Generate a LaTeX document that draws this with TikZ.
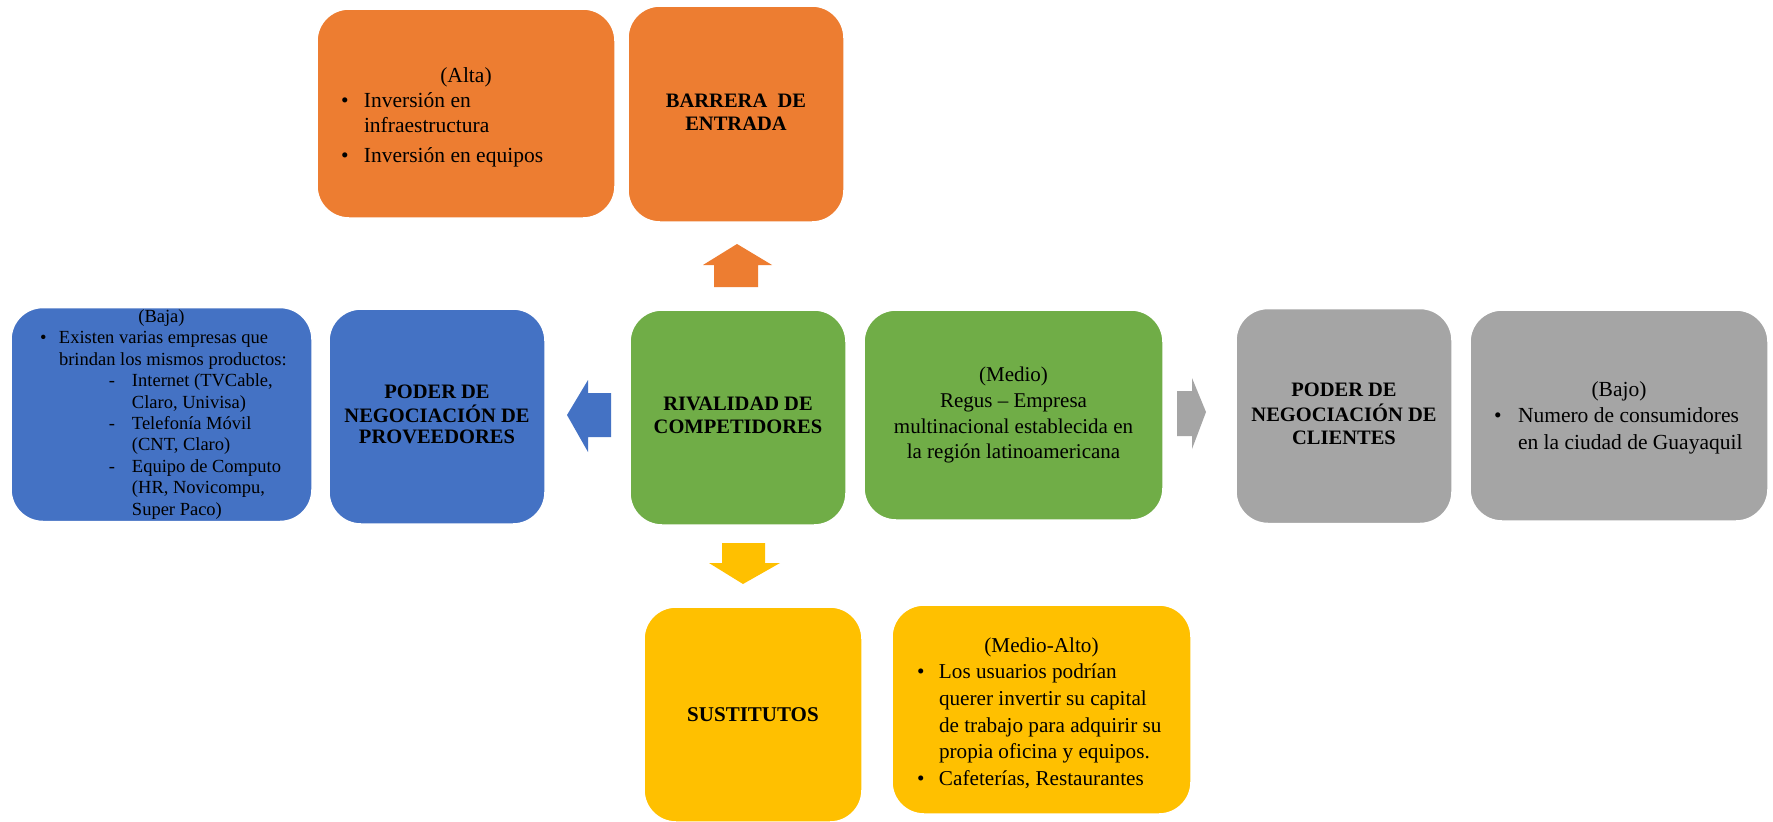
\documentclass[tikz,border=0pt]{standalone}
\usepackage{fontspec}
\setmainfont{Liberation Serif}
\definecolor{corange}{HTML}{ED7D31}
\definecolor{cblue}{HTML}{4472C4}
\definecolor{cgreen}{HTML}{70AD47}
\definecolor{cgray}{HTML}{A5A5A5}
\definecolor{cyellow}{HTML}{FFC000}
\newlength\bw
\newcommand\Lc[1]{\makebox[\bw][c]{#1}}
\newcommand\Ll[2]{\makebox[\bw][l]{\hspace*{#1}#2}}
\newcommand\Lb[3]{\makebox[\bw][l]{\hspace*{#1}\makebox[#2][l]{\textbullet}#3}}
\newcommand\Ld[3]{\makebox[\bw][l]{\hspace*{#1}\makebox[#2][l]{-}#3}}
% shift content down by #1 without moving the box centre
\newcommand\down[2]{\raisebox{0pt}[\dimexpr\height+#1*2\relax][\depth]{#2}}
\tikzset{
  box/.style={draw=white, line width=1.5pt, rounded corners=32pt, inner sep=0pt, text=black},
}
\begin{document}
\begin{tikzpicture}[x=1pt,y=-1pt]
\useasboundingbox (0,0) rectangle (1773,822);
\fill[white] (0,0) rectangle (1773,822);

% top row (orange)
\node[box, fill=corange, minimum width=298pt, minimum height=209pt] (alta) at (466,113.5) {%
  \setlength\bw{250pt}\fontsize{21.5}{25}\selectfont
  \down{4pt}{\begin{tabular}{@{}l@{}}
  \Lc{(Alta)}\\
  \Lb{0pt}{23pt}{Inversión en}\\
  \Ll{23pt}{infraestructura}\\[5pt]
  \Lb{0pt}{23pt}{Inversión en equipos}
  \end{tabular}}};
\node[box, fill=corange, minimum width=216pt, minimum height=216pt] (barrera) at (736,114) {%
  \fontsize{20.5}{23}\selectfont\bfseries
  \begin{tabular}{@{}c@{}}BARRERA\ \ DE\\ ENTRADA\end{tabular}};

% middle row
\node[box, fill=cblue, minimum width=301pt, minimum height=211pt] (baja) at (161.5,414.5) {%
  \setlength\bw{243pt}\fontsize{18.5}{21.4}\selectfont
  \begin{tabular}{@{}l@{}}
  \Lc{(Baja)}\\
  \Lb{0pt}{19pt}{Existen varias empresas que}\\
  \Ll{19pt}{brindan los mismos productos:}\\
  \Ld{69pt}{23pt}{Internet (TVCable,}\\
  \Ll{92pt}{Claro, Univisa)}\\
  \Ld{69pt}{23pt}{Telefonía Móvil}\\
  \Ll{92pt}{(CNT, Claro)}\\
  \Ld{69pt}{23pt}{Equipo de Computo}\\
  \Ll{92pt}{(HR, Novicompu,}\\
  \Ll{92pt}{Super Paco)}
  \end{tabular}};
\node[box, fill=cblue, minimum width=216pt, minimum height=215pt] (proveedores) at (437,416.5) {%
  \fontsize{20.5}{21.5}\selectfont\bfseries
  \begin{tabular}{@{}c@{}}PODER DE\\ NEGOCIACIÓN DE\\ PROVEEDORES\end{tabular}};
\node[box, fill=cgreen, minimum width=216pt, minimum height=215pt] (rival) at (738,417.5) {%
  \fontsize{20.5}{22.5}\selectfont\bfseries
  \begin{tabular}{@{}c@{}}RIVALIDAD DE\\ COMPETIDORES\end{tabular}};
\node[box, fill=cgreen, minimum width=299pt, minimum height=210pt] (medio) at (1013.5,415) {%
  \fontsize{21}{25.8}\selectfont
  \begin{tabular}{@{}c@{}}(Medio)\\ Regus – Empresa\\ multinacional establecida en\\ la región latinoamericana\end{tabular}};
\node[box, fill=cgray, minimum width=216pt, minimum height=215pt] (clientes) at (1344,416) {%
  \fontsize{20.5}{23}\selectfont\bfseries
  \begin{tabular}{@{}c@{}}PODER DE\\ NEGOCIACIÓN DE\\ CLIENTES\end{tabular}};
\node[box, fill=cgray, minimum width=298pt, minimum height=211pt] (bajo) at (1619,415.5) {%
  \setlength\bw{250pt}\fontsize{21.5}{26.5}\selectfont
  \down{2pt}{\begin{tabular}{@{}l@{}}
  \Lc{(Bajo)}\\
  \Lb{0pt}{24pt}{Numero de consumidores}\\
  \Ll{24pt}{en la ciudad de Guayaquil}
  \end{tabular}}};

% bottom row (yellow)
\node[box, fill=cyellow, minimum width=218pt, minimum height=215pt] (sustitutos) at (753,714.5) {%
  \fontsize{21}{24}\selectfont\bfseries SUSTITUTOS};
\node[box, fill=cyellow, minimum width=299pt, minimum height=209pt] (medioalto) at (1041.5,709.5) {%
  \setlength\bw{249pt}\fontsize{21.2}{26.6}\selectfont
  \down{4pt}{\begin{tabular}{@{}l@{}}
  \Lc{(Medio-Alto)}\\
  \Lb{0pt}{22pt}{Los usuarios podrían}\\
  \Ll{22pt}{querer invertir su capital}\\
  \Ll{22pt}{de trabajo para adquirir su}\\
  \Ll{22pt}{propia oficina y equipos.}\\
  \Lb{0pt}{22pt}{Cafeterías, Restaurantes}
  \end{tabular}}};

% block arrows
\fill[corange] (737,244) -- (772,265) -- (758,265) -- (758,287) -- (714,287) -- (714,265) -- (703,265) -- cycle;
\fill[cyellow] (722,543) -- (765,543) -- (765,563) -- (780,563) -- (743,584) -- (709,563) -- (722,563) -- cycle;
\fill[cblue] (567,415) -- (588,380) -- (588,393) -- (611,393) -- (611,437) -- (588,437) -- (588,452) -- cycle;
\fill[cgray] (1177,391) -- (1192,391) -- (1192,378) -- (1206,412) -- (1192,449) -- (1192,436) -- (1177,436) -- cycle;
\end{tikzpicture}
\end{document}
